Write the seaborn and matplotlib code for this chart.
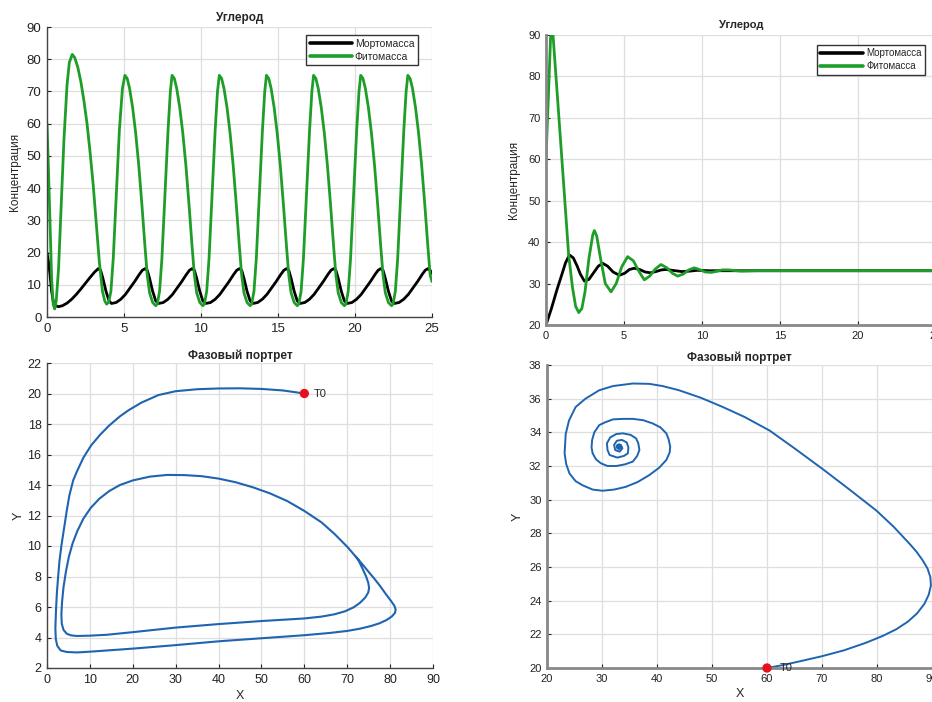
import numpy as np
import seaborn as sns
import matplotlib.pyplot as plt

# ---- верхний левый: колебания (время) ----
t_fito_1 = [0, 0.1, 0.2, 0.3, 0.4, 0.5, 0.6, 0.75, 0.9, 1.1, 1.3, 1.45,
            1.64, 1.8, 2.0, 2.2, 2.4, 2.6, 2.8, 3.0, 3.2, 3.4, 3.6, 3.75, 3.87, 4.0, 4.15, 4.3, 4.5, 4.7, 4.9,
            5.06, 5.21, 5.36, 5.56, 5.76, 5.96, 6.16, 6.36, 6.51, 6.66, 6.86, 7.06, 7.16, 7.31, 7.46, 7.66, 7.86, 8.01,
            8.12, 8.27, 8.42, 8.62, 8.82, 9.02, 9.22, 9.42, 9.57, 9.72, 9.92, 10.12, 10.22, 10.37, 10.52, 10.72, 10.92, 11.07,
            11.19, 11.34, 11.49, 11.69, 11.89, 12.09, 12.29, 12.49, 12.64, 12.79, 12.99, 13.19, 13.29, 13.44, 13.59, 13.79, 13.99, 14.14,
            14.25, 14.40, 14.55, 14.75, 14.95, 15.15, 15.35, 15.55, 15.70, 15.85, 16.05, 16.25, 16.35, 16.50, 16.65, 16.85, 17.05, 17.20,
            17.31, 17.46, 17.61, 17.81, 18.01, 18.21, 18.41, 18.61, 18.76, 18.91, 19.11, 19.31, 19.41, 19.56, 19.71, 19.91, 20.11, 20.26,
            20.37, 20.52, 20.67, 20.87, 21.07, 21.27, 21.47, 21.67, 21.82, 21.97, 22.17, 22.37, 22.47, 22.62, 22.77, 22.97, 23.17, 23.32,
            23.43, 23.58, 23.73, 23.93, 24.13, 24.33, 24.53, 24.73, 24.88, 25.0]
fito_1 = [60, 45, 28, 12, 4, 2.5, 5, 15, 32, 55, 72, 79,
          81.5, 80.5, 77.5, 73, 67, 60, 51, 41, 29, 17, 8, 5, 4, 4.5, 8, 18, 38, 58, 71,
          75, 74, 71, 65, 57, 47, 35, 22, 13, 7.5, 4.5, 3.5, 4, 8, 18, 38, 58, 70,
          75, 74, 71, 65, 57, 47, 35, 22, 13, 7.5, 4.5, 3.5, 4, 8, 18, 38, 58, 70,
          75, 74, 71, 65, 57, 47, 35, 22, 13, 7.5, 4.5, 3.5, 4, 8, 18, 38, 58, 70,
          75, 74, 71, 65, 57, 47, 35, 22, 13, 7.5, 4.5, 3.5, 4, 8, 18, 38, 58, 70,
          75, 74, 71, 65, 57, 47, 35, 22, 13, 7.5, 4.5, 3.5, 4, 8, 18, 38, 58, 70,
          75, 74, 71, 65, 57, 47, 35, 22, 13, 7.5, 4.5, 3.5, 4, 8, 18, 38, 58, 70,
          75, 74, 71, 65, 57, 47, 35, 22, 13, 11]

t_morto_1 = [0, 0.1, 0.2, 0.3, 0.4, 0.55, 0.75, 1.0, 1.3, 1.6, 1.9, 2.2, 2.5, 2.8, 3.1, 3.33, 3.48, 3.63, 3.83, 4.03, 4.19,
             4.49, 4.79, 5.09, 5.39, 5.69, 5.99, 6.19, 6.36, 6.51, 6.66, 6.86, 7.06, 7.25,
             7.55, 7.85, 8.15, 8.45, 8.75, 9.05, 9.25, 9.42, 9.57, 9.72, 9.92, 10.12, 10.31,
             10.62, 10.92, 11.22, 11.52, 11.82, 12.12, 12.32, 12.49, 12.64, 12.79, 12.99, 13.19, 13.38,
             13.68, 13.98, 14.28, 14.58, 14.88, 15.18, 15.38, 15.55, 15.70, 15.85, 16.05, 16.25, 16.44,
             16.74, 17.04, 17.34, 17.64, 17.94, 18.24, 18.44, 18.61, 18.76, 18.91, 19.11, 19.31, 19.50,
             19.80, 20.10, 20.40, 20.70, 21.00, 21.30, 21.50, 21.67, 21.82, 21.97, 22.17, 22.37, 22.56,
             22.86, 23.16, 23.46, 23.76, 24.06, 24.36, 24.56, 24.73, 24.88, 25.0]
morto_1 = [20, 17, 13, 8, 5, 3.5, 3.2, 3.5, 4.3, 5.5, 7, 8.7, 10.5, 12.3, 14, 15, 14.5, 12, 8, 5, 4.2,
           4.5, 5.5, 7, 9, 11, 13.2, 14.5, 15, 14.5, 12, 8, 5, 4.2,
           4.5, 5.5, 7, 9, 11, 13.2, 14.5, 15, 14.5, 12, 8, 5, 4.2,
           4.5, 5.5, 7, 9, 11, 13.2, 14.5, 15, 14.5, 12, 8, 5, 4.2,
           4.5, 5.5, 7, 9, 11, 13.2, 14.5, 15, 14.5, 12, 8, 5, 4.2,
           4.5, 5.5, 7, 9, 11, 13.2, 14.5, 15, 14.5, 12, 8, 5, 4.2,
           4.5, 5.5, 7, 9, 11, 13.2, 14.5, 15, 14.5, 12, 8, 5, 4.2,
           4.5, 5.5, 7, 9, 11, 13.2, 14.5, 15, 14.5, 13.5]

# ---- верхний правый: затухающие колебания ----
t_fito_2 = [0, 0.3, 0.45, 1.0, 1.45, 1.7, 1.9, 2.1, 2.3, 2.5, 2.75, 3.0, 3.1, 3.25, 3.5, 3.8, 4.17, 4.5, 4.85,
            5.23, 5.6, 5.95, 6.3, 6.65, 7.0, 7.37, 7.75, 8.1, 8.44, 8.8, 9.15, 9.5, 9.9, 10.2, 10.6, 11.0,
            11.3, 11.7, 12.5, 13.5, 25]
fito_2 = [60, 90, 90, 61, 37, 29, 24.5, 23, 24, 28, 36, 41.8, 42.8, 41.5, 36, 30, 28, 30, 34,
          36.5, 35.5, 33, 30.9, 31.8, 33.5, 34.6, 33.8, 32.5, 31.8, 32.3, 33.3, 33.8, 33.3, 32.8, 32.7, 33.0,
          33.3, 33.3, 33.0, 33.1, 33.1]
t_morto_2 = [0, 0.35, 0.7, 1.0, 1.25, 1.5, 1.75, 2.0, 2.2, 2.46, 2.75, 3.05, 3.35, 3.63, 3.95, 4.3, 4.7,
             5.05, 5.35, 5.66, 6.0, 6.35, 6.7, 7.05, 7.4, 7.7, 8.1, 8.7, 9.2, 9.7, 10.5, 12, 25]
morto_2 = [20, 24, 28.5, 32, 35, 36.9, 36.2, 34.2, 32.3, 30.6, 31.0, 32.6, 34.2, 34.9, 34.2, 32.8, 32.0,
           32.5, 33.4, 33.7, 33.4, 32.8, 32.6, 32.9, 33.3, 33.4, 33.2, 32.9, 33.0, 33.2, 33.1, 33.1, 33.1]

# ---- нижний левый: фазовый портрет (предельный цикл) ----
x_phase_3 = [60, 55, 50, 45, 40, 35, 30, 26, 22, 19, 17, 14.5, 12.4, 10.3, 8.5, 7, 6.1, 5.2, 4.6, 4.0,
             3.4, 2.9, 2.6, 2.3, 2.1, 1.95, 2.05, 2.4, 3.2, 4.6, 7, 10, 15, 20, 30, 40, 50, 60, 66, 70,
             73, 75.5, 77.5, 79.2, 80.4, 81.1, 81.3, 81.0, 80.2, 79.0, 77.6, 76.2, 75.0, 73.9, 73.0,
             72, 70, 67, 64, 60, 56, 52, 48, 44, 40, 36, 32, 28, 24, 20, 17, 14.5, 12.2, 10.2, 8.5,
             7.1, 6.0, 5.1, 4.4, 3.85, 3.5, 3.35, 3.45, 3.85, 4.6, 5.6, 7, 10, 14, 20, 30, 40, 50, 56,
             60, 64, 67, 69.5, 71.5, 73.0, 74.2, 74.9, 75.1, 74.9, 74.4, 73.6, 72.6, 72]
y_phase_3 = [20.0, 20.2, 20.3, 20.34, 20.33, 20.28, 20.15, 19.9, 19.4, 18.9, 18.5, 17.9, 17.3, 16.6, 15.8,
             14.9, 14.3, 13.3, 12.3, 11.2, 10.1, 9.0, 8.0, 6.9, 5.8, 4.6, 3.9, 3.45, 3.15, 3.05, 3.02, 3.07,
             3.17, 3.27, 3.5, 3.75, 3.95, 4.15, 4.3, 4.43,
             4.58, 4.75, 4.93, 5.15, 5.38, 5.6, 5.82, 6.08, 6.4, 6.85, 7.4, 7.9, 8.3, 8.68, 8.98,
             9.3, 9.95, 10.8, 11.55, 12.3, 12.95, 13.45, 13.85, 14.18, 14.42, 14.58, 14.65, 14.66, 14.55,
             14.3, 14.0, 13.6, 13.1, 12.5, 11.8,
             11.0, 10.2, 9.3, 8.3, 7.3, 6.3, 5.5, 4.9, 4.5, 4.25, 4.14, 4.1, 4.12, 4.18, 4.35, 4.65, 4.88,
             5.08, 5.18,
             5.25, 5.37, 5.52, 5.72, 5.98, 6.28, 6.62, 6.95, 7.25, 7.6, 8.0, 8.5, 9.08, 9.3]

# ---- нижний правый: фазовый портрет (устойчивый фокус) ----
x_phase_4 = [60, 63, 66, 70, 74, 78, 81, 83.5, 85.6, 87.3, 88.6, 89.4, 89.8, 89.7, 89.2, 88.3, 87.2, 86,
             83, 79.9, 75, 70.2, 65, 60.5, 56, 52, 48, 44, 41, 38.6, 35.6,
             32, 29.5, 27, 25.2, 24.0, 23.4, 23.2, 23.5, 24.1, 25.2, 26.5,
             28.3, 30.1, 32.2, 34.3, 36.5, 38.6, 40.4, 41.7, 42.3, 42.4, 42.1, 41.7, 40.6, 39.2, 37.5,
             35.6, 33.8, 32.0, 30.6, 29.5, 28.6, 28.2, 28.1, 28.3, 28.9, 29.8, 31.0, 32.6, 34.2, 35.6,
             36.4, 36.8, 36.6, 36.2, 35.2, 33.8, 32.6, 31.5, 30.9, 31.0, 31.4, 32.8, 34.0, 34.7, 34.8,
             34.5, 33.6, 32.7, 32.2, 32.4, 33.2, 33.7, 33.4, 33.0]
y_phase_4 = [20, 20.18, 20.4, 20.7, 21.05, 21.5, 21.9, 22.3, 22.75, 23.25, 23.8, 24.35, 24.9, 25.4, 25.9,
             26.4, 26.9, 27.35, 28.4, 29.35, 30.6, 31.8, 33.05, 34.1, 34.9, 35.5, 36.05, 36.5, 36.75,
             36.88, 36.9,
             36.75, 36.5, 36.0, 35.5, 34.7,
             33.9, 32.75, 32.1, 31.55, 31.1, 30.85, 30.6, 30.53, 30.6, 30.76, 31.05, 31.46, 31.9, 32.36,
             32.8, 33.15, 33.6, 33.94, 34.3, 34.53, 34.72, 34.8, 34.8, 34.77, 34.6, 34.43, 34.0, 33.54,
             33.1, 32.75, 32.4, 32.16, 32.0, 32.0, 32.1, 32.26, 32.6, 32.95, 33.35, 33.64, 33.85, 33.94,
             33.9, 33.7, 33.35, 32.95, 32.65, 32.5, 32.6, 32.75, 33.1, 33.4, 33.55, 33.5, 33.25, 32.95,
             32.85, 33.05, 33.25, 33.15]

start_point = (60, 20)
center_point = (33.1, 33.15)

sns.set_style("whitegrid")
plt.rcParams['font.family'] = ['Liberation Sans', 'DejaVu Sans']

GREEN = '#1e9e28'
BLUE = '#1f64b0'
GRID = '#dedede'

fig = plt.figure(figsize=(9.32, 7.02), dpi=100)
ax1 = fig.add_axes([47 / 932, 1 - 317 / 702, 385 / 932, 290 / 702])
ax2 = fig.add_axes([546 / 932, 1 - 325 / 702, 390 / 932, 290 / 702])
ax3 = fig.add_axes([47 / 932, 1 - 668 / 702, 386 / 932, 305 / 702])
ax4 = fig.add_axes([547 / 932, 1 - 668 / 702, 385 / 932, 303 / 702])


def style_axes(ax, spine_color, spine_width, tick_size):
    ax.grid(True, color=GRID, linewidth=0.9)
    for side in ['top', 'right']:
        ax.spines[side].set_visible(False)
    for side in ['left', 'bottom']:
        ax.spines[side].set_color(spine_color)
        ax.spines[side].set_linewidth(spine_width)
    ax.tick_params(direction='in', length=3, width=0.8, colors='#222222',
                   labelsize=tick_size, pad=4, left=True, bottom=True)


# верхний левый
sns.lineplot(x=t_morto_1, y=morto_1, sort=False, estimator=None, ax=ax1,
             color='black', linewidth=2.0, label='Мортомасса')
sns.lineplot(x=t_fito_1, y=fito_1, sort=False, estimator=None, ax=ax1,
             color=GREEN, linewidth=2.0, label='Фитомасса')
ax1.set_xlim(0, 25)
ax1.set_ylim(0, 90)
ax1.set_xticks(range(0, 26, 5))
ax1.set_yticks(range(0, 91, 10))
style_axes(ax1, '#444444', 1.0, 9.5)
ax1.set_title('Углерод', fontsize=8.5, fontweight='bold', pad=4)
ax1.set_ylabel('Концентрация', fontsize=8.5, labelpad=4)
ax1.set_xlabel('')
leg = ax1.legend(loc='upper right', bbox_to_anchor=(0.9636, 0.9724), borderaxespad=0,
                 fontsize=7.5, frameon=True, fancybox=False, edgecolor='#333333', framealpha=1,
                 handlelength=4.0, handletextpad=0.3, borderpad=0.35, labelspacing=0.3)
for line in leg.get_lines():
    line.set_linewidth(2.6)

# верхний правый
sns.lineplot(x=t_morto_2, y=morto_2, sort=False, estimator=None, ax=ax2,
             color='black', linewidth=2.0, label='Мортомасса')
sns.lineplot(x=t_fito_2, y=fito_2, sort=False, estimator=None, ax=ax2,
             color=GREEN, linewidth=2.0, label='Фитомасса')
ax2.set_xlim(0, 25)
ax2.set_ylim(20, 90)
ax2.set_xticks(range(0, 26, 5))
ax2.set_yticks(range(20, 91, 10))
style_axes(ax2, '#888888', 2.0, 8)
ax2.set_title('Углерод', fontsize=8, fontweight='bold', pad=5)
ax2.set_ylabel('Концентрация', fontsize=8.5, labelpad=6)
ax2.set_xlabel('')
leg = ax2.legend(loc='upper right', bbox_to_anchor=(0.9718, 0.9655), borderaxespad=0,
                 fontsize=7, frameon=True, fancybox=False, edgecolor='#333333', framealpha=1,
                 handlelength=4.4, handletextpad=0.3, borderpad=0.35, labelspacing=0.3)
for line in leg.get_lines():
    line.set_linewidth(2.6)

# нижний левый
sns.lineplot(x=x_phase_3, y=y_phase_3, sort=False, estimator=None, ax=ax3,
             color=BLUE, linewidth=1.5)
sns.scatterplot(x=[start_point[0]], y=[start_point[1]], ax=ax3, color='#e8101a',
                s=45, edgecolor='none', zorder=5)
ax3.text(start_point[0] + 2.3, start_point[1], 'T0', fontsize=8, va='center', ha='left')
ax3.set_xlim(0, 90)
ax3.set_ylim(2, 22)
ax3.set_xticks(range(0, 91, 10))
ax3.set_yticks(range(2, 23, 2))
style_axes(ax3, '#444444', 1.0, 9)
ax3.set_title('Фазовый портрет', fontsize=8.5, fontweight='bold', pad=3)
ax3.set_xlabel('X', fontsize=9, labelpad=3)
ax3.set_ylabel('Y', fontsize=9, labelpad=2)

# нижний правый
sns.lineplot(x=x_phase_4, y=y_phase_4, sort=False, estimator=None, ax=ax4,
             color=BLUE, linewidth=1.4)
sns.scatterplot(x=[center_point[0]], y=[center_point[1]], ax=ax4, color=BLUE,
                s=22, edgecolor='none', zorder=4)
sns.scatterplot(x=[start_point[0]], y=[start_point[1]], ax=ax4, color='#e8101a',
                s=45, edgecolor='none', zorder=5, clip_on=False)
ax4.text(start_point[0] + 2.3, start_point[1], 'T0', fontsize=8, va='center', ha='left')
ax4.set_xlim(20, 90)
ax4.set_ylim(20, 38)
ax4.set_xticks(range(20, 91, 10))
ax4.set_yticks(range(20, 39, 2))
style_axes(ax4, '#888888', 2.0, 8)
ax4.set_title('Фазовый портрет', fontsize=8.5, fontweight='bold', pad=3)
ax4.set_xlabel('X', fontsize=9, labelpad=3)
ax4.set_ylabel('Y', fontsize=9, labelpad=4)

fig.savefig('out.png', dpi=100)
